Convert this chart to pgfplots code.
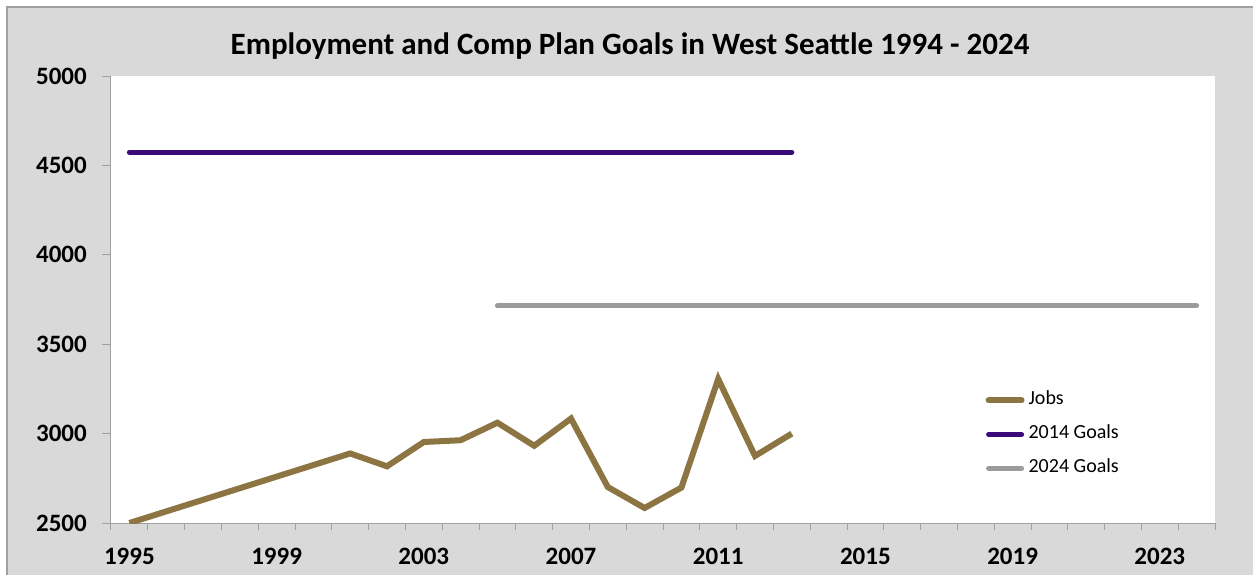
\documentclass[border=0pt]{standalone}
\usepackage{pgfplots}
\pgfplotsset{compat=1.18}
\usepackage{fontspec}
\setmainfont{Carlito}
\definecolor{jobs}{HTML}{8C7542}
\definecolor{goalA}{HTML}{3A0A78}
\definecolor{goalB}{HTML}{9B9B9B}
\definecolor{bg}{HTML}{D9D9DA}
\definecolor{axisgray}{HTML}{A0A0A0}
\begin{document}
\begin{tikzpicture}
\path[use as bounding box] (0pt,0pt) rectangle (1253pt,-575pt);
\fill[bg] (7pt,-7pt) rectangle (1253pt,-575pt);
\draw[axisgray, line width=1.2pt] (7pt,-575pt) -- (7pt,-7pt) -- (1253pt,-7pt);
\begin{axis}[
  at={(111pt,-523pt)}, anchor=south west,
  scale only axis, width=1104pt, height=447pt,
  xmin=1994.5, xmax=2024.5, ymin=2500, ymax=5000,
  axis lines*=left,
  axis line style={axisgray, line width=1pt},
  axis background/.style={fill=white},
  xtick={1995,1999,...,2023},
  minor xtick={1994.5,1995.5,...,2024.5},
  major x tick style={draw=none},
  minor x tick style={axisgray, line width=1pt},
  minor tick length=7pt,
  ytick={2500,3000,...,5000},
  major tick length=9pt,
  tick align=outside,
  y tick style={axisgray, line width=1pt},
  ticklabel style={font=\fontsize{25}{25}\selectfont\bfseries},
  /pgf/number format/assume math mode=true,
  /pgf/number format/1000 sep={},
  xticklabel style={inner sep=0pt, anchor=north, yshift=-16pt},
  yticklabel style={inner sep=0pt, anchor=east, xshift=-15pt},
  legend style={at={(0.792,0.298)}, anchor=north west, draw=none, fill=none,
    font=\fontsize{20}{20}\selectfont, row sep=13pt, inner sep=0pt,
    nodes={inner sep=1pt, text height=14pt, text depth=5pt},
    /tikz/every even column/.append style={column sep=0pt}},
  legend cell align=left,
  legend image code/.code={\draw[#1,line cap=round] (0pt,0pt) -- (33pt,0pt);},
]
\addplot[jobs, line width=6pt, line join=miter] coordinates {
(1995,2500) (2001,2889) (2002,2817) (2003,2953) (2004,2963) (2005,3061)
(2006,2932) (2007,3084) (2008,2701) (2009,2584) (2010,2698) (2011,3305)
(2012,2875) (2013,3000)};
\addlegendentry{\hspace{3pt}Jobs}
\addplot[goalA, line width=5pt, line cap=round] coordinates {(1995,4574) (2013,4574)};
\addlegendentry{\hspace{3pt}2014 Goals}
\addplot[goalB, line width=5pt, line cap=round] coordinates {(2005,3715) (2024,3715)};
\addlegendentry{\hspace{3pt}2024 Goals}
\end{axis}
\node[font=\fontsize{31}{31}\selectfont\bfseries, anchor=base] at (630pt,-55pt) {Employment and Comp Plan Goals in West Seattle 1994 - 2024};
\end{tikzpicture}
\end{document}
